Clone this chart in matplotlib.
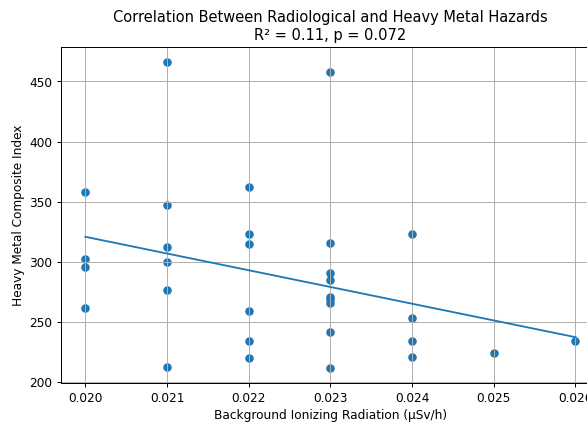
import numpy as np
import matplotlib
matplotlib.use('Agg')
from matplotlib import pyplot as plt

# background radiation (uSv/h) and heavy metal index
radiation = [0.020, 0.020, 0.020, 0.020,
             0.021, 0.021, 0.021, 0.021, 0.021, 0.021,
             0.022, 0.022, 0.022, 0.022, 0.022, 0.022,
             0.023, 0.023, 0.023, 0.023, 0.023, 0.023, 0.023, 0.023, 0.023,
             0.024, 0.024, 0.024, 0.024,
             0.025,
             0.026]
metal_index = [358, 302, 296, 262,
               466, 347, 312, 300, 277, 213,
               362, 323, 315, 259, 234, 220,
               458, 316, 291, 285, 271, 269, 266, 242, 212,
               323, 253, 234, 221,
               224,
               234]

x = np.array(radiation)
y = np.array(metal_index)

# linear fit
slope, intercept = np.polyfit(x, y, 1)
xs = np.array([x.min(), x.max()])

# reference looks like a downscaled render, so use a lower dpi
fig = plt.figure(figsize=(6.712, 4.852), dpi=87.6)
ax = fig.add_axes([0.1037, 0.0988, 0.9167, 0.7906])
ax.scatter(x, y)
ax.plot(xs, slope * xs + intercept)
ax.set_title('Correlation Between Radiological and Heavy Metal Hazards\nR² = 0.11, p = 0.072')
ax.set_xlabel('Background Ionizing Radiation (µSv/h)')
ax.set_ylabel('Heavy Metal Composite Index')
ax.grid(True)

fig.savefig('out.png', dpi=87.6)
